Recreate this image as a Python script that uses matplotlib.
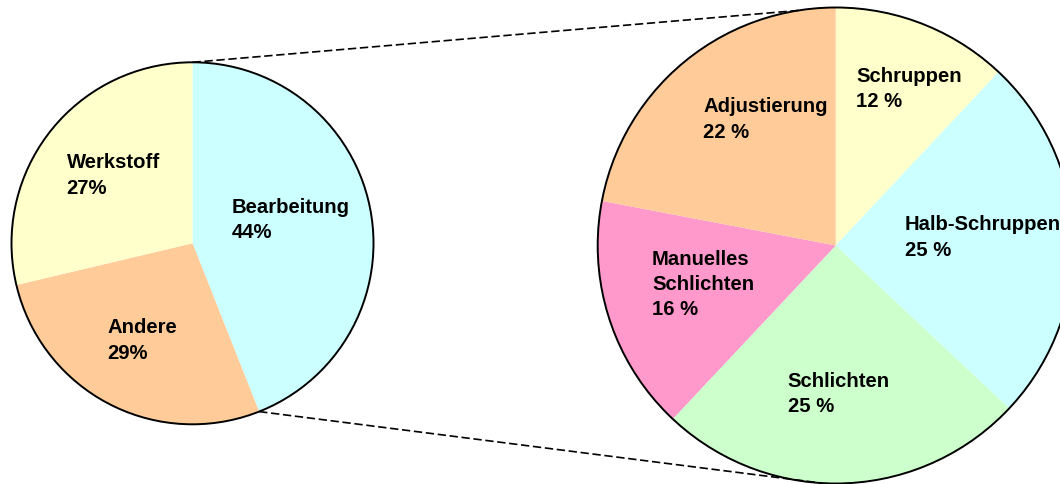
import matplotlib
matplotlib.use("Agg")
import matplotlib.pyplot as plt
from matplotlib.patches import Circle
import numpy as np

# ---- data ----
main_categories = ["Bearbeitung", "Andere", "Werkstoff"]
main_values = [44, 27.3, 28.7]          # wedge sizes as drawn
main_pct_text = ["44%", "29%", "27%"]    # printed labels
main_colors = ["#CCFFFF", "#FFCC99", "#FFFFCC"]

detail_categories = ["Schruppen", "Halb-Schruppen", "Schlichten",
                     "Manuelles\nSchlichten", "Adjustierung"]
detail_values = [12, 25, 25, 16, 22]
detail_pct_text = ["12 %", "25 %", "25 %", "16 %", "22 %"]
detail_colors = ["#FFFFCC", "#CCFFFF", "#CCFFCC", "#FF99CC", "#FFCC99"]

# label placement (radius fraction, angle in degrees) - layout only
main_label_pos = [(0.56, 14), (0.60, -117.5), (0.58, 139)]
detail_label_pos = [(0.73, 65.0), (0.62, 3.5), (0.62, -88.8),
                    (0.58, -164), (0.61, 119)]

plt.rcParams["font.family"] = ["Liberation Sans", "DejaVu Sans"]

W, H = 1060, 485
fig = plt.figure(figsize=(W / 100, H / 100), dpi=100)
ax = fig.add_axes([0, 0, 1, 1])

left_c, left_r = (192.5, H - 244.3), 181
right_c, right_r = (835.7, H - 246.5), 238


def draw_pie(values, cats, pcts, colors, center, radius, lpos):
    labels = [f"{c}\n{p}" for c, p in zip(cats, pcts)]
    wedges, texts = ax.pie(values, colors=colors, startangle=90,
                           counterclock=False, center=center, radius=radius,
                           labels=labels, labeldistance=0.6,
                           wedgeprops=dict(linewidth=0),
                           textprops=dict(fontsize=14.6, fontweight="bold",
                                          color="black", linespacing=1.42))
    for t, (d, a) in zip(texts, lpos):
        a = np.deg2rad(a)
        t.set_position((center[0] + radius * d * np.cos(a),
                        center[1] + radius * d * np.sin(a)))
        t.set_ha("center")
        t.set_va("center")
        t.set_multialignment("left")
    ax.add_patch(Circle(center, radius, fill=False, edgecolor="black",
                        linewidth=1.4, zorder=5))
    return wedges, texts


lw_, lt_ = draw_pie(main_values, main_categories, main_pct_text, main_colors,
                    left_c, left_r, main_label_pos)
rw_, rt_ = draw_pie(detail_values, detail_categories, detail_pct_text,
                    detail_colors, right_c, right_r, detail_label_pos)

# connection lines from Bearbeitung wedge edges to the detail pie
wb = lw_[0]
ang_top, ang_bot = np.deg2rad(wb.theta2), np.deg2rad(wb.theta1)
p_top = (left_c[0] + left_r * np.cos(ang_top), left_c[1] + left_r * np.sin(ang_top))
p_bot = (left_c[0] + left_r * np.cos(ang_bot), left_c[1] + left_r * np.sin(ang_bot))
r_top_ang, r_bot_ang = np.deg2rad(99), np.deg2rad(-93.5)
q_top = (right_c[0] + right_r * np.cos(r_top_ang), right_c[1] + right_r * np.sin(r_top_ang))
q_bot = (right_c[0] + right_r * np.cos(r_bot_ang), right_c[1] + right_r * np.sin(r_bot_ang))
for p, q in [(p_top, q_top), (p_bot, q_bot)]:
    ax.plot([p[0], q[0]], [p[1], q[1]], color="black", linewidth=1.2,
            linestyle=(0, (5.0, 2.2)), zorder=6)

ax.set_xlim(0, W)
ax.set_ylim(0, H)
ax.set_aspect("equal")
ax.axis("off")
fig.savefig("out.png", dpi=100, facecolor="white")
